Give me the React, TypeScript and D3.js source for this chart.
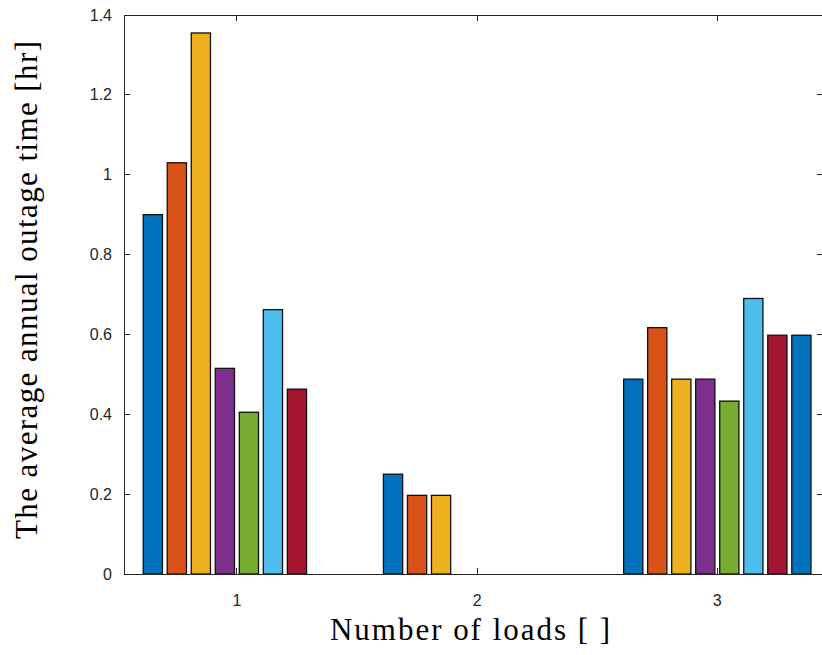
import React from 'react';
import * as d3 from 'd3';

// groups on the x axis
const categories = [1, 2, 3];

// one array per bar series, one value per group (0 = no bar)
const series1 = [0.9, 0.25, 0.488];
const series2 = [1.03, 0.197, 0.617];
const series3 = [1.355, 0.197, 0.488];
const series4 = [0.515, 0, 0.488];
const series5 = [0.405, 0, 0.433];
const series6 = [0.662, 0, 0.69];
const series7 = [0.463, 0, 0.598];
const series8 = [0, 0, 0.598];

const yTicks = [0, 0.2, 0.4, 0.6, 0.8, 1, 1.2, 1.4];

const colors = ['#0072BD', '#D95319', '#EDB120', '#7E2F8E', '#77AC30', '#4DBEEE', '#A2142F', '#0072BD'];

const App = () => {
  const width = 822;
  const height = 655;
  const left = 124, right = 823, top = 15, bottom = 574;
  const allSeries = [series1, series2, series3, series4, series5, series6, series7, series8];

  const x = d3.scaleLinear().domain([0.53, 3.44]).range([left, right]);
  const y = d3.scaleLinear().domain([0, 1.4]).range([bottom, top]);
  const slot = d3.scaleBand<number>()
    .domain(d3.range(allSeries.length))
    .range([-0.4, 0.4]);
  const barW = slot.bandwidth() * 0.8;

  const axisColor = '#262626';
  const tickFont = '"Liberation Sans", Arial, Helvetica, sans-serif';
  const labelFont = '"Liberation Serif", "Times New Roman", serif';

  return (
    <svg width={width} height={height} style={{ position: 'absolute', left: 0, top: 0, background: '#fff' }}>
      {allSeries.map((s, i) =>
        s.map((v, j) => {
          if (!v) return null;
          const cx = categories[j] + slot(i)! + slot.bandwidth() / 2;
          const x0 = x(cx - barW / 2);
          const x1 = x(cx + barW / 2);
          return (
            <rect key={`${i}-${j}`} x={x0} y={y(v)} width={x1 - x0} height={y(0) - y(v)}
              fill={colors[i]} stroke="#111" strokeWidth={1.3} />
          );
        })
      )}

      {/* box */}
      <g stroke={axisColor} strokeWidth={1} fill="none" shapeRendering="crispEdges">
        <line x1={left} x2={right} y1={bottom} y2={bottom} />
        <line x1={left} x2={right} y1={top} y2={top} />
        <line x1={left} x2={left} y1={top} y2={bottom} />
        <line x1={right} x2={right} y1={top} y2={bottom} />
        {yTicks.map(t => (
          <g key={t}>
            <line x1={left} x2={left + 6} y1={y(t)} y2={y(t)} />
            <line x1={right - 6} x2={right} y1={y(t)} y2={y(t)} />
          </g>
        ))}
        {categories.map(c => (
          <g key={c}>
            <line x1={x(c)} x2={x(c)} y1={bottom} y2={bottom - 6} />
            <line x1={x(c)} x2={x(c)} y1={top} y2={top + 6} />
          </g>
        ))}
      </g>

      {yTicks.map(t => (
        <text key={t} x={left - 12} y={y(t)} dy="0.35em" textAnchor="end"
          fontFamily={tickFont} fontSize={16} fill={axisColor}>{d3.format('~g')(t)}</text>
      ))}
      {categories.map(c => (
        <text key={c} x={x(c)} y={bottom + 32} textAnchor="middle"
          fontFamily={tickFont} fontSize={16} fill={axisColor}>{c}</text>
      ))}

      <text x={470} y={640} textAnchor="middle" fontFamily={labelFont} fontSize={31}
        textLength={280} lengthAdjust="spacing" fill="#000">
        Number of loads [ ]
      </text>
      <text transform={`translate(37,290) rotate(-90)`} textAnchor="middle"
        fontFamily={labelFont} fontSize={31} textLength={498} lengthAdjust="spacing" fill="#000">
        The average annual outage time [hr]
      </text>
    </svg>
  );
};

export default App;
